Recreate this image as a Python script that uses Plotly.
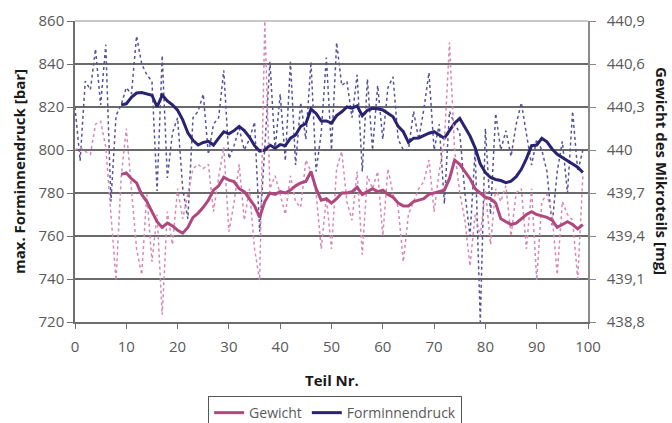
import plotly.graph_objects as go

# Teil-Nummern der Einzelmessungen und des gleitenden Mittels (Periode 10)
teil = list(range(0, 100))
teil_mittel = list(range(9, 100))

# max. Forminnendruck je Teil [bar]
druck = [820, 795, 832, 828, 847, 821, 849, 776, 816, 821,
         829, 826, 853, 840, 835, 832, 781, 844, 787, 808,
         815, 782, 768, 815, 818, 826, 798, 812, 815, 837,
         796, 802, 810, 800, 805, 813, 762, 800, 841, 800,
         826, 795, 841, 793, 822, 805, 841, 790, 808, 843,
         800, 850, 830, 832, 815, 835, 790, 833, 800, 830,
         805, 829, 834, 805, 800, 800, 818, 805, 819, 836,
         800, 812, 775, 818, 812, 808, 780, 760, 800, 720,
         810, 770, 817, 800, 809, 797, 812, 822, 808, 793,
         805, 800, 790, 765, 790, 804, 780, 818, 790, 800]

# Gewicht je Teil [mg]
gewicht = [440.00, 440.02, 439.99, 439.97, 440.18, 440.20, 440.02, 439.55, 439.09, 439.81,
           440.15, 439.73, 439.31, 439.13, 439.69, 439.22, 439.55, 438.85, 439.57, 439.34,
           439.73, 439.52, 439.70, 439.87, 439.90, 439.87, 439.90, 439.57, 439.81, 440.02,
           439.43, 439.63, 439.90, 439.51, 439.73, 439.31, 439.09, 440.90, 439.73, 439.82,
           439.69, 439.55, 439.82, 439.64, 439.60, 439.93, 439.85, 439.70, 439.31, 439.67,
           439.31, 439.87, 439.99, 439.64, 439.51, 439.85, 439.27, 439.82, 439.73, 439.85,
           439.40, 439.87, 439.69, 439.60, 439.22, 439.55, 439.64, 439.73, 439.78, 439.93,
           439.57, 439.85, 440.06, 440.75, 440.00, 439.70, 439.51, 439.19, 439.55, 439.40,
           439.72, 439.34, 439.73, 439.64, 439.75, 439.40, 439.70, 439.73, 439.31, 439.73,
           439.09, 439.64, 439.69, 439.55, 439.13, 439.64, 439.55, 439.51, 439.10, 439.82]

# gleitendes Mittel Forminnendruck [bar], Teil 9..99
druck_mittel = [821, 821.5, 824.5, 826.5, 826.7, 826, 825.5, 820, 825.6, 822.8,
                821, 818.5, 814, 808, 804.5, 802.3, 803.5, 804, 802.3, 805.5,
                808.5, 807.5, 809, 811, 809, 806, 802, 799.5, 800, 802.3,
                800.8, 802.5, 802, 805.5, 807, 811, 812.3, 819, 817, 813.5,
                813.5, 812.5, 816, 817.8, 820, 819.5, 820.5, 816, 818.5, 819.4,
                819.2, 818.6, 817, 815.5, 811, 808.5, 803.5, 805.5, 805.6, 806.8,
                807.8, 808.5, 807, 805.5, 809, 812.5, 814.7, 810.5, 806.5, 801,
                793.5, 789.5, 787.2, 786.3, 785.8, 784.8, 785.5, 787.6, 791, 796,
                802, 802.3, 805.4, 803.8, 800.5, 798, 796.5, 795, 793.5, 792,
                789.5]

# gleitendes Mittel Gewicht [mg], Teil 9..99
gewicht_mittel = [439.83, 439.84, 439.80, 439.77, 439.69, 439.64, 439.57, 439.50, 439.46, 439.49,
                  439.47, 439.44, 439.42, 439.46, 439.53, 439.56, 439.60, 439.65, 439.72, 439.75,
                  439.81, 439.79, 439.78, 439.73, 439.71, 439.66, 439.61, 439.53, 439.64, 439.70,
                  439.69, 439.71, 439.70, 439.72, 439.75, 439.77, 439.78, 439.85, 439.73, 439.65,
                  439.66, 439.63, 439.66, 439.70, 439.70, 439.71, 439.74, 439.69, 439.71, 439.73,
                  439.71, 439.72, 439.69, 439.67, 439.63, 439.61, 439.61, 439.64, 439.65, 439.66,
                  439.69, 439.70, 439.71, 439.72, 439.80, 439.93, 439.90, 439.85, 439.80, 439.73,
                  439.70, 439.67, 439.66, 439.63, 439.52, 439.50, 439.48, 439.49, 439.52, 439.55,
                  439.57, 439.55, 439.54, 439.53, 439.51, 439.46, 439.48, 439.50, 439.48, 439.45,
                  439.48]

# Achsenbeschriftungen
x_ticks = [0, 10, 20, 30, 40, 50, 60, 70, 80, 90, 100]
druck_ticks = [720, 740, 760, 780, 800, 820, 840, 860]
gewicht_ticks = [438.8, 439.1, 439.4, 439.7, 440.0, 440.3, 440.6, 440.9]
gewicht_ticktext = ["438,8", "439,1", "439,4", "439,7", "440", "440,3", "440,6", "440,9"]

PINK = "#b0477f"
PINK_LIGHT = "#d589b3"
NAVY = "#2a2470"
NAVY_LIGHT = "#55539a"
GREY_TXT = "#5a5a5a"
FONT = "Open Sans"

fig = go.Figure()

fig.add_trace(go.Scatter(x=teil, y=gewicht, yaxis="y2", mode="lines",
                         line=dict(color=PINK_LIGHT, width=1.5, dash="dot"),
                         showlegend=False, hoverinfo="skip"))
fig.add_trace(go.Scatter(x=teil, y=druck, mode="lines",
                         line=dict(color=NAVY_LIGHT, width=1.5, dash="dot"),
                         showlegend=False, hoverinfo="skip"))
fig.add_trace(go.Scatter(x=teil_mittel, y=gewicht_mittel, yaxis="y2", mode="lines",
                         name="Gewicht", line=dict(color=PINK, width=3)))
fig.add_trace(go.Scatter(x=teil_mittel, y=druck_mittel, mode="lines",
                         name="Forminnendruck", line=dict(color=NAVY, width=3)))

fig.update_layout(
    width=672, height=423,
    margin=dict(l=75, r=84, t=21, b=101, autoexpand=False),
    paper_bgcolor="white", plot_bgcolor="white",
    font=dict(family=FONT, size=15, color=GREY_TXT),
    xaxis=dict(range=[0, 100], tickvals=x_ticks, showgrid=False, zeroline=False,
               showline=True, linecolor="#6e6e6e", linewidth=1.5,
               ticks="outside", ticklen=5, tickcolor="#6e6e6e",
               ticklabelstandoff=5, automargin=False,
               tickfont=dict(size=15, color=GREY_TXT)),
    yaxis=dict(range=[720, 860], tickvals=druck_ticks, showgrid=True,
               gridcolor="#6a6a6a", gridwidth=1.5, zeroline=False,
               showline=True, linecolor="#6e6e6e", linewidth=1.5,
               ticks="outside", ticklen=6, tickcolor="#6e6e6e", automargin=False,
               tickfont=dict(size=15, color=GREY_TXT)),
    yaxis2=dict(range=[438.8, 440.9], tickvals=gewicht_ticks, ticktext=gewicht_ticktext,
                overlaying="y", side="right", showgrid=False, zeroline=False,
                showline=True, linecolor="#8a8a8a", linewidth=1.5,
                ticks="outside", ticklen=6, tickcolor="#8a8a8a",
                ticklabelstandoff=8, automargin=False,
                tickfont=dict(size=15, color=GREY_TXT)),
    legend=dict(orientation="h", x=0.507, xanchor="center", y=-0.246, yanchor="top",
                bordercolor="#555555", borderwidth=1, bgcolor="white",
                font=dict(size=14, color=GREY_TXT), itemwidth=30,
                tracegroupgap=0),
    shapes=[dict(type="line", xref="x domain", yref="y domain", x0=0, x1=1, y0=1, y1=1,
                 line=dict(color="#c8c8c8", width=2), layer="below")],
    annotations=[
        dict(text="<b>Teil Nr.</b>", xref="paper", yref="paper", x=0.5, y=-0.193,
             xanchor="center", yanchor="middle", showarrow=False,
             font=dict(size=15, color="#1a1a1a", family=FONT)),
        dict(text="<b>max. Forminnendruck [bar]</b>", xref="paper", yref="paper",
             x=-0.11, y=0.5, xanchor="center", yanchor="middle", textangle=-90,
             showarrow=False, font=dict(size=15, color="#1a1a1a", family=FONT)),
        dict(text="<b>Gewicht des Mikroteils [mg]</b>", xref="paper", yref="paper",
             x=1.145, y=0.5, xanchor="center", yanchor="middle", textangle=90,
             showarrow=False, font=dict(size=15, color="#1a1a1a", family=FONT)),
    ],
)

fig.write_html("out.html")
